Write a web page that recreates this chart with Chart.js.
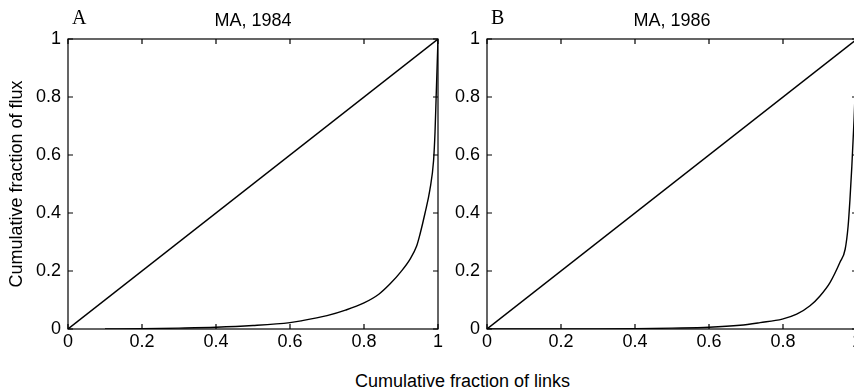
<!DOCTYPE html>
<html>
<head>
<meta charset="utf-8">
<script src="https://cdn.jsdelivr.net/npm/chart.js@4.4.1/dist/chart.umd.min.js"></script>
<style>
    html, body { margin: 0; padding: 0; background: #fff; overflow: hidden; }
    body { width: 854px; height: 392px; position: relative; }
    .panel { position: absolute; top: 0; width: 460px; height: 360px; }
    #panelA { left: 0; }
    #panelB { left: 419px; }
    #tituloX {
        position: absolute; left: 0; width: 925px; top: 370px;
        text-align: center; color: #000;
        font: 18px "Liberation Sans", Arial, sans-serif; line-height: 22px;
    }
</style>
</head>
<body>
<div class="panel" id="panelA"><canvas id="graficaA"></canvas></div>
<div class="panel" id="panelB"><canvas id="graficaB"></canvas></div>
<div id="tituloX">Cumulative fraction of links</div>

<script>
// ticks compartidos
const tickValues = [0, 0.2, 0.4, 0.6, 0.8, 1];
const tickLabels = ['0', '0.2', '0.4', '0.6', '0.8', '1'];

// diagonal de igualdad
const diagX = [0, 1];
const diagY = [0, 1];

// MA, 1984
const linksA = [0.1, 0.2, 0.3, 0.4, 0.5, 0.6, 0.63, 0.7, 0.75, 0.8, 0.84, 0.87, 0.9, 0.925, 0.942, 0.951, 0.965, 0.978, 0.988, 0.992, 0.995, 1];
const fluxA  = [0, 0.001, 0.003, 0.006, 0.012, 0.022, 0.028, 0.046, 0.065, 0.09, 0.12, 0.155, 0.198, 0.242, 0.285, 0.325, 0.4, 0.48, 0.58, 0.68, 0.8, 1];

// MA, 1986
const linksB = [0, 0.3, 0.4, 0.5, 0.6, 0.684, 0.738, 0.798, 0.837, 0.873, 0.9, 0.927, 0.954, 0.968, 0.976, 0.981, 0.986, 0.992, 0.996, 1];
const fluxB  = [0, 0, 0.001, 0.003, 0.006, 0.013, 0.022, 0.034, 0.051, 0.08, 0.114, 0.16, 0.23, 0.275, 0.355, 0.447, 0.56, 0.72, 0.85, 1];

const fuente = '"Liberation Sans", Arial, sans-serif';
Chart.defaults.font.family = fuente;
Chart.defaults.font.size = 18;
Chart.defaults.color = '#000';

function puntos(xs, ys) {
    return xs.map((x, i) => ({ x, y: ys[i] }));
}

// caja estilo matlab con ticks hacia dentro + letra y titulo
const cajaMatlab = {
    id: 'cajaMatlab',
    afterDatasetsDraw(chart, args, opts) {
        const { ctx, chartArea: a, scales } = chart;
        ctx.save();
        ctx.strokeStyle = '#000';
        ctx.lineWidth = 1.2;
        ctx.strokeRect(a.left, a.top, a.right - a.left, a.bottom - a.top);

        const largo = 5;
        ctx.beginPath();
        tickValues.forEach(v => {
            const px = scales.x.getPixelForValue(v);
            ctx.moveTo(px, a.bottom); ctx.lineTo(px, a.bottom - largo);
            ctx.moveTo(px, a.top); ctx.lineTo(px, a.top + largo);
            const py = scales.y.getPixelForValue(v);
            ctx.moveTo(a.left, py); ctx.lineTo(a.left + largo, py);
            ctx.moveTo(a.right, py); ctx.lineTo(a.right - largo, py);
        });
        ctx.stroke();

        ctx.fillStyle = '#000';
        ctx.textBaseline = 'alphabetic';
        ctx.textAlign = 'left';
        ctx.font = '20px "Liberation Serif", serif';
        ctx.fillText(opts.letra, a.left + 4, 24);

        ctx.textAlign = 'center';
        ctx.font = '18px ' + fuente;
        ctx.fillText(opts.titulo, (a.left + a.right) / 2, 26);
        ctx.restore();
    }
};

function crearPanel(id, letra, titulo, xs, ys, conTituloY) {
    const linea = { borderColor: '#000', borderWidth: 1.4, pointRadius: 0, fill: false };

    new Chart(document.getElementById(id), {
        type: 'line',
        data: {
            datasets: [
                { ...linea, data: puntos(diagX, diagY) },
                { ...linea, data: puntos(xs, ys), cubicInterpolationMode: 'monotone' }
            ]
        },
        options: {
            responsive: true,
            maintainAspectRatio: false,
            animation: false,
            events: [],
            layout: { padding: { top: 39, right: 22, left: 0, bottom: 0 } },
            plugins: {
                legend: { display: false },
                tooltip: { enabled: false },
                cajaMatlab: { letra, titulo }
            },
            scales: {
                x: {
                    type: 'linear', min: 0, max: 1,
                    grid: { display: false, drawTicks: false },
                    border: { display: false },
                    afterBuildTicks: s => { s.ticks = tickValues.map(value => ({ value })); },
                    afterFit: s => { s.height = 31; },
                    ticks: {
                        padding: 2, maxRotation: 0, autoSkip: false,
                        callback: (v, i) => tickLabels[i]
                    }
                },
                y: {
                    type: 'linear', min: 0, max: 1,
                    grid: { display: false, drawTicks: false },
                    border: { display: false },
                    afterBuildTicks: s => { s.ticks = tickValues.map(value => ({ value })); },
                    afterFit: s => { s.width = 68; },
                    ticks: {
                        padding: 7, autoSkip: false,
                        callback: (v, i) => tickLabels[i]
                    },
                    title: {
                        display: conTituloY,
                        text: 'Cumulative fraction of flux',
                        padding: { top: 6, bottom: 0 }
                    }
                }
            }
        },
        plugins: [cajaMatlab]
    });
}

crearPanel('graficaA', 'A', 'MA, 1984', linksA, fluxA, true);
crearPanel('graficaB', 'B', 'MA, 1986', linksB, fluxB, false);
</script>
</body>
</html>
